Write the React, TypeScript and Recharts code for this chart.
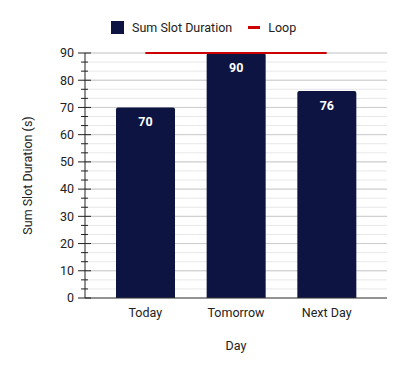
import React from "react";
import { ComposedChart, Bar, Line, XAxis, YAxis, CartesianGrid, LabelList } from "recharts";

const days = ["Today", "Tomorrow", "Next Day"];
const slotDuration = [70, 90, 76];
const loop = [90, 90, 90];
const majorTicks = [0, 10, 20, 30, 40, 50, 60, 70, 80, 90];

// minor ticks split every major step in three
const allTicks = majorTicks.flatMap((t, i) =>
    i === majorTicks.length - 1 ? [t] : [t, t + 10 / 3, t + 20 / 3]
);

const data = days.map((day, i) => ({ day, slot: slotDuration[i], loop: loop[i] }));

const BAR_COLOR = "#0d1442";
const LOOP_COLOR = "#cc0000";
const AXIS_X = 85;
const TEXT = "#222";

function YTick(props: any) {
    const { y, payload } = props;
    const isMajor = majorTicks.some((m) => Math.abs(m - payload.value) < 1e-6);
    if (!isMajor) {
        return <line x1={AXIS_X - 4} x2={AXIS_X + 3} y1={y} y2={y} stroke="#222" strokeWidth={1} />;
    }
    return (
        <g>
            <line x1={AXIS_X - 7} x2={AXIS_X + 6} y1={y} y2={y} stroke="#222" strokeWidth={1} />
            <text x={AXIS_X - 11} y={y} dy="0.35em" textAnchor="end" fontSize={12.5} fill={TEXT}>
                {payload.value}
            </text>
        </g>
    );
}

export default function App() {
    return (
        <div style={{ position: "absolute", left: 0, top: 0, width: 405, height: 371, fontFamily: "Roboto, sans-serif", background: "#fff" }}>
            <div style={{ position: "absolute", left: 111, top: 20, display: "flex", alignItems: "center", fontSize: 12.5, color: TEXT }}>
                <span style={{ width: 13, height: 13, background: BAR_COLOR, display: "inline-block", marginRight: 8 }} />
                <span>Sum Slot Duration</span>
                <span style={{ width: 12, height: 3, background: LOOP_COLOR, display: "inline-block", marginLeft: 16, marginRight: 8 }} />
                <span>Loop</span>
            </div>
            <ComposedChart width={405} height={371} data={data} margin={{ top: 53, right: 18, left: 25, bottom: 43 }}>
                <CartesianGrid vertical={false} stroke="#e8e8e8" />
                <CartesianGrid vertical={false} horizontalValues={majorTicks.slice(1)} stroke="#cccccc" />
                <XAxis
                    dataKey="day"
                    height={30}
                    padding={{ left: 15, right: 15 }}
                    tickLine={false}
                    axisLine={{ stroke: "#333" }}
                    tick={{ fill: TEXT, fontSize: 12.5, dy: 2 }}
                    label={{ value: "Day", position: "bottom", offset: 13, fill: TEXT, fontSize: 12.5 }}
                />
                <YAxis
                    width={60}
                    domain={[0, 90]}
                    ticks={allTicks}
                    interval={0}
                    tickLine={false}
                    axisLine={{ stroke: "#222" }}
                    tick={<YTick />}
                    label={{ value: "Sum Slot Duration (s)", angle: -90, position: "insideLeft", offset: 3, fill: TEXT, fontSize: 12.5, style: { textAnchor: "middle" } }}
                />
                <Bar dataKey="slot" name="Sum Slot Duration" fill={BAR_COLOR} barSize={59} radius={[2, 2, 0, 0]} isAnimationActive={false}>
                    <LabelList dataKey="slot" position="insideTop" offset={10} fill="#fff" fontSize={12.5} fontWeight="bold" />
                </Bar>
                <Line dataKey="loop" name="Loop" stroke={LOOP_COLOR} strokeWidth={2} dot={false} activeDot={false} isAnimationActive={false} />
            </ComposedChart>
        </div>
    );
}
